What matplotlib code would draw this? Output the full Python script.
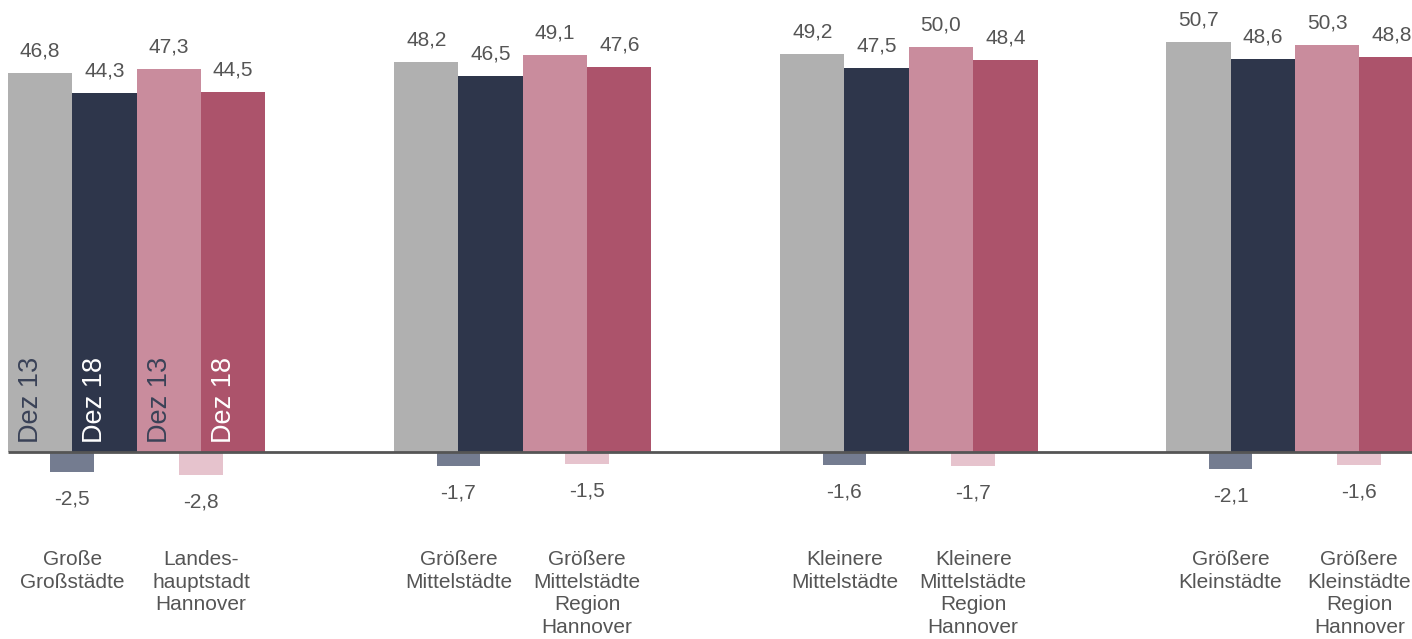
import matplotlib
matplotlib.use("Agg")
import matplotlib.pyplot as plt

plt.rcParams['font.family'] = ['Liberation Sans', 'DejaVu Sans']

# Daten
kategorien = ["Große\nGroßstädte", "Landes-\nhauptstadt\nHannover",
              "Größere\nMittelstädte", "Größere\nMittelstädte\nRegion\nHannover",
              "Kleinere\nMittelstädte", "Kleinere\nMittelstädte\nRegion\nHannover",
              "Größere\nKleinstädte", "Größere\nKleinstädte\nRegion\nHannover"]
dez13 = [46.8, 47.3, 48.2, 49.1, 49.2, 50.0, 50.7, 50.3]
dez18 = [44.3, 44.5, 46.5, 47.6, 47.5, 48.4, 48.6, 48.8]
diff = [-2.5, -2.8, -1.7, -1.5, -1.6, -1.7, -2.1, -1.6]
serien = ["Dez 13", "Dez 18"]

# Farben: (Dez 13, Dez 18, Differenz) fuer Vergleichsgruppe und Region Hannover
farben = [("#b0b0b0", "#2e364b", "#747c90"),
          ("#c98c9d", "#ac536b", "#e6c3cd")]
textfarbe = "#555555"

def fmt(v):
    return f"{v:.1f}".replace(".", ",")

fig = plt.figure(figsize=(14.12, 6.39), dpi=100)
ax = fig.add_axes([0, 0, 1, 1])

slot = 0
for i, kat in enumerate(kategorien):
    g, p = divmod(i, 2)
    x0 = g * 6 + 2 * p
    c13, c18, cd = farben[p]
    for j, (v, c) in enumerate([(dez13[i], c13), (dez18[i], c18)]):
        ax.bar(x0 + j, v, width=1, align='edge', color=c, linewidth=0)
        ax.annotate(fmt(v), (x0 + j + 0.5, v), xytext=(0, 22), textcoords='offset pixels',
                    ha='center', va='center', fontsize=15, color=textfarbe)
    # Differenz
    ax.bar(x0 + 1, diff[i], width=0.68, align='center', color=cd, linewidth=0)
    ax.annotate(fmt(diff[i]), (x0 + 1, diff[i]), xytext=(0, -27), textcoords='offset pixels',
                ha='center', va='center', fontsize=15, color=textfarbe)
    ax.text(x0 + 1, -12.1, kat, ha='center', va='top', fontsize=15, color=textfarbe,
            linespacing=1.24)
    if i < 2:
        for j, name in enumerate(serien):
            tc = "#3a4257" if j == 0 else "white"
            ax.annotate(name, (x0 + j + 0.5, 0), xytext=(-9, 9), textcoords='offset pixels',
                        rotation=90, ha='center', va='bottom', fontsize=19.5, color=tc)
    slot = x0 + 2

ax.hlines(0, 0, slot, color="#555555", linewidth=2)

ax.set_xlim(-0.124, 21.82)
ax.set_ylim(-23.1, 55.85)
ax.axis('off')

fig.savefig("out.png", dpi=100)
